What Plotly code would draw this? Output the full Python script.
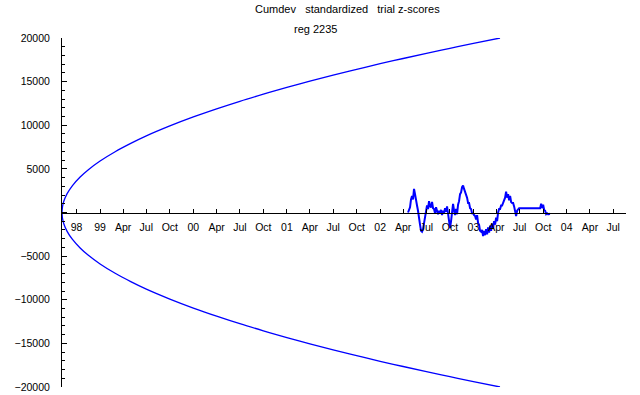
import plotly.graph_objects as go
import pandas as pd

# ---- envelope ----
env_dates = ["1998-08-05", "1998-08-07", "1998-08-12", "1998-08-25", "1998-09-15",
             "1998-10-15", "1998-11-15", "1999-01-01", "1999-03-01", "1999-05-01",
             "1999-07-01", "1999-10-01", "2000-01-01", "2000-04-01", "2000-07-01",
             "2000-10-01", "2001-01-01", "2001-04-01", "2001-07-01", "2001-10-01",
             "2002-01-01", "2002-04-01", "2002-07-01", "2002-10-01", "2003-01-01",
             "2003-04-15"]
env_upper = [0, 680, 1280, 2160, 3090, 4070, 4880, 5900, 6970, 7920, 8780, 9920,
             10950, 11880, 12750, 13560, 14330, 15050, 15740, 16400, 17050, 17650,
             18240, 18820, 19380, 20000]
env_lower = [0, -680, -1280, -2160, -3090, -4070, -4880, -5900, -6970, -7920, -8780,
             -9920, -10950, -11880, -12750, -13560, -14330, -15050, -15740, -16400,
             -17050, -17650, -18240, -18820, -19380, -20000]

# ---- cumulative deviation ----
segA_start = "2002-04-20"
segA_values = [0, 400, 600, 1500, 1900, 1500, 2700, 2100, 1600, 800,
               200, -900, -1400, -2100, -2200, -1900, -1200, -500, 600, 800,
               400, 1300, 700, 600, 1200, 500, 400, -100, 600, 100,
               -200, 200, -100, 300, -300, 200, -100, 500, 100, 700,
               -400, -800, -1800, -1000, 400, 1000, 200, -300, 400, -200,
               900, 1300, 2100, 2300, 2900, 3100, 2700, 2400, 1900, 1700,
               1100, 1100, 500, 400, -100, -100, -300, -400, -800, -300,
               -1200, -1400, -2100, -2200, -2000, -2700, -2100, -2600, -1900, -2500,
               -1700, -2300, -1500, -2100, -1300, -1800, -1000, -1400, -600, -1000,
               0, 400, 400, 800, 800, 1100, 1500, 1700, 2400, 1700,
               2100, 1400, 1900, 1200, 1100, 1100, 700, 100, -400, 200,
               300, 500]
segB_start = "2003-09-19"
segB_values = [500, 1000, 500, 900, 300, 200, -200, -100, -200, -150, -200]
sample_step = "94h"

# ---- axes ----
x_tick_dates = ["1998-10-01", "1999-01-01", "1999-04-01", "1999-07-01", "1999-10-01",
                "2000-01-01", "2000-04-01", "2000-07-01", "2000-10-01",
                "2001-01-01", "2001-04-01", "2001-07-01", "2001-10-01",
                "2002-01-01", "2002-04-01", "2002-07-01", "2002-10-01",
                "2003-01-01", "2003-04-01", "2003-07-01", "2003-10-01",
                "2004-01-01", "2004-04-01", "2004-07-01"]
x_tick_labels = ["98", "99", "Apr", "Jul", "Oct", "00", "Apr", "Jul", "Oct",
                 "01", "Apr", "Jul", "Oct", "02", "Apr", "Jul", "Oct",
                 "03", "Apr", "Jul", "Oct", "04", "Apr", "Jul"]
y_tick_vals = [-20000, -15000, -10000, -5000, 0, 5000, 10000, 15000, 20000]
y_tick_text = ["\u221220000", "\u221215000", "\u221210000", "\u22125000", "",
               "5000", "10000", "15000", "20000"]

datesA = pd.date_range(segA_start, periods=len(segA_values), freq=sample_step)
datesB = pd.date_range(segB_start, periods=len(segB_values), freq=sample_step)
data_dates = list(datesA) + list(datesB)
data_values = segA_values + segB_values

BLUE = "#0000ff"
FONT = "Liberation Sans, Arial, sans-serif"

fig = go.Figure()
fig.add_trace(go.Scatter(x=env_dates, y=env_upper, mode="lines",
                         line=dict(color=BLUE, width=1.3, shape="spline"),
                         hoverinfo="skip"))
fig.add_trace(go.Scatter(x=env_dates, y=env_lower, mode="lines",
                         line=dict(color=BLUE, width=1.3, shape="spline"),
                         hoverinfo="skip"))
fig.add_trace(go.Scatter(x=data_dates, y=data_values, mode="lines",
                         line=dict(color=BLUE, width=2),
                         hoverinfo="skip"))

fig.update_layout(
    width=640, height=395,
    margin=dict(l=62, r=14, t=38, b=8, autoexpand=False),
    paper_bgcolor="white", plot_bgcolor="white",
    showlegend=False,
    font=dict(family=FONT, size=10.5, color="black"),
    xaxis=dict(
        type="date",
        range=["1998-08-05", "2004-08-20"],
        tickvals=x_tick_dates, ticktext=x_tick_labels,
        anchor="free", position=0.5,
        showline=True, linecolor="black", linewidth=1,
        ticks="inside", ticklen=4, tickcolor="black", tickwidth=1,
        showgrid=False, zeroline=False,
        ticklabelstandoff=5,
        tickfont=dict(family=FONT, size=10.5, color="black"),
    ),
    yaxis=dict(
        range=[-20000, 20000],
        tickvals=y_tick_vals, ticktext=y_tick_text,
        showline=True, linecolor="black", linewidth=1,
        ticks="inside", ticklen=5, tickcolor="black", tickwidth=1,
        minor=dict(dtick=1000, ticks="inside", ticklen=3, tickcolor="black", tickwidth=1,
                   showgrid=False),
        showgrid=False, zeroline=False,
        ticklabelstandoff=9,
        tickfont=dict(family=FONT, size=10.5, color="black"),
    ),
    annotations=[
        dict(text="Cumdev\u00a0\u00a0\u00a0standardized\u00a0\u00a0\u00a0trial\u00a0z-scores",
             xref="paper", yref="paper", x=0.506, y=1.083,
             xanchor="center", yanchor="middle", showarrow=False,
             font=dict(family=FONT, size=11, color="black")),
        dict(text="reg\u00a02235",
             xref="paper", yref="paper", x=0.4486, y=1.0258,
             xanchor="center", yanchor="middle", showarrow=False,
             font=dict(family=FONT, size=11, color="black")),
    ],
)

fig.write_html("out.html",
               config={"displayModeBar": False, "staticPlot": True},
               post_script="document.body.style.margin='0px';document.body.style.padding='0px';")
